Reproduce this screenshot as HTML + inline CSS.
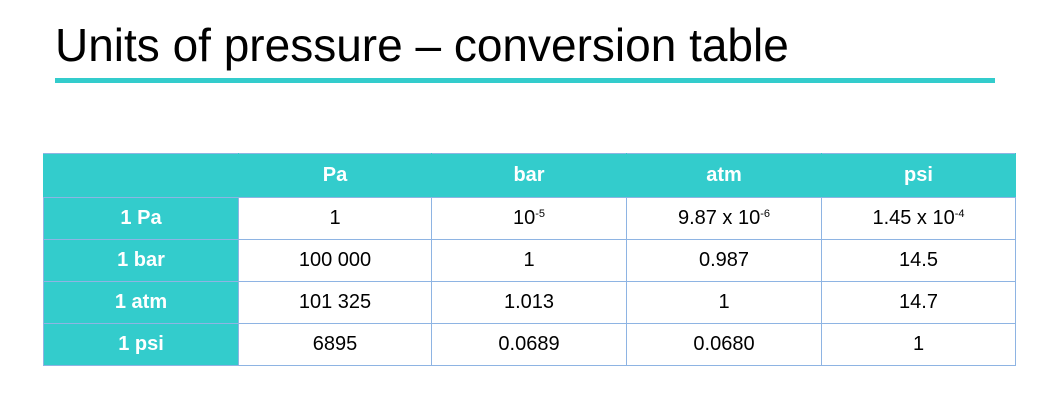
<!DOCTYPE html>
<html><head><meta charset="utf-8"><style>
body{margin:0;width:1051px;height:415px;background:#fff;position:relative;overflow:hidden;font-family:"Liberation Sans",sans-serif}
#title{position:absolute;left:55px;top:18px;font-size:46px;color:#000;white-space:nowrap}
#rule{position:absolute;left:55px;top:78px;width:940px;height:5px;background:#33cccc}
table{position:absolute;left:43px;top:153px;border-collapse:collapse;font-size:20px}
td,th{border:1px solid #8eb4e3;text-align:center;padding:0}
th{background:#33cccc;color:#fff;font-weight:bold;height:43px;border-left-color:#33cccc;border-right-color:#33cccc}
td{height:41px;color:#000}
td.h{background:#33cccc;color:#fff;font-weight:bold}
sup{font-size:11px;vertical-align:7px}
</style></head><body>
<div id="title">Units of pressure – conversion table</div>
<div id="rule"></div>
<table>
<tr><th style="width:194px"></th><th style="width:192px">Pa</th><th style="width:194px">bar</th><th style="width:194px">atm</th><th style="width:193px">psi</th></tr>
<tr><td class="h">1 Pa</td><td>1</td><td>10<sup>-5</sup></td><td>9.87 x 10<sup>-6</sup></td><td>1.45 x 10<sup>-4</sup></td></tr>
<tr><td class="h">1 bar</td><td>100 000</td><td>1</td><td>0.987</td><td>14.5</td></tr>
<tr><td class="h">1 atm</td><td>101 325</td><td>1.013</td><td>1</td><td>14.7</td></tr>
<tr><td class="h">1 psi</td><td>6895</td><td>0.0689</td><td>0.0680</td><td>1</td></tr>
</table>
</body></html>
